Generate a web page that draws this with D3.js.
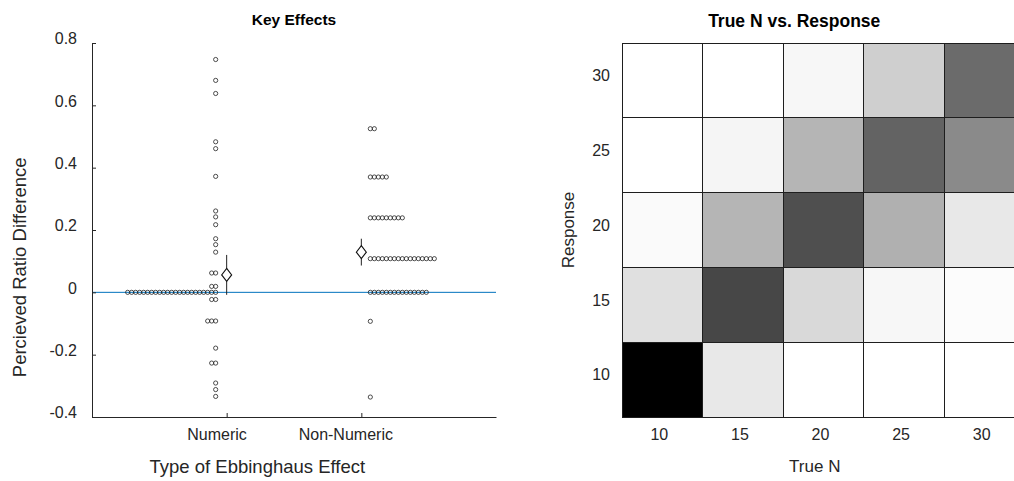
<!DOCTYPE html>
<html>
<head>
<meta charset="utf-8">
<script src="https://cdn.jsdelivr.net/npm/d3@7"></script>
<style>
  body { margin: 0; background: #fff; }
  svg { display: block; font-family: "Liberation Sans", Arial, sans-serif; }
  text { fill: #262626; }
</style>
</head>
<body>
<svg width="1014" height="481"></svg>
<script>
// left panel data
const groups = ["Numeric", "Non-Numeric"];
const numericVals = [0.747, 0.680, 0.638, 0.483, 0.461, 0.372, 0.261, 0.242, 0.217,
  0.172, 0.153, 0.129, 0.062, 0.062, 0.019, 0.019,
  0, 0, 0, 0, 0, 0, 0, 0, 0, 0, 0, 0, 0, 0, 0, 0, 0, 0, 0, 0, 0, 0, 0,
  -0.023, -0.023, -0.092, -0.092, -0.092, -0.179, -0.227, -0.227,
  -0.291, -0.312, -0.334];
const nonNumericVals = [0.525, 0.525,
  0.370, 0.370, 0.370, 0.370, 0.370,
  0.239, 0.239, 0.239, 0.239, 0.239, 0.239, 0.239, 0.239, 0.239,
  0.108, 0.108, 0.108, 0.108, 0.108, 0.108, 0.108, 0.108, 0.108, 0.108, 0.108, 0.108, 0.108, 0.108, 0.108, 0.108, 0.108,
  0, 0, 0, 0, 0, 0, 0, 0, 0, 0, 0, 0, 0, 0, 0,
  -0.093, -0.336];
const groupMeans = [0.056, 0.129];
const groupErrs = [0.064, 0.043];
const yTicks = [-0.4, -0.2, 0, 0.2, 0.4, 0.6, 0.8];
const yTickLabels = ["-0.4", "-0.2", "0", "0.2", "0.4", "0.6", "0.8"];

// right panel data
const trueN = [10, 15, 20, 25, 30];
const responses = [10, 15, 20, 25, 30];
// proportion of responses, rows = response 30..10, cols = true N 10..30
const props = [
  [0.00, 0.00, 0.03, 0.19, 0.58],   // 30
  [0.00, 0.04, 0.29, 0.61, 0.46],   // 25
  [0.02, 0.29, 0.69, 0.31, 0.09],   // 20
  [0.12, 0.72, 0.15, 0.03, 0.01],   // 15
  [1.00, 0.09, 0.00, 0.00, 0.00]    // 10
];

const svg = d3.select("svg");
const ink = "#262626";

// labels in the reference sit a bit off their anchors
function shiftX(sel, f) {
  sel.each(function () {
    const w = this.getComputedTextLength();
    d3.select(this).attr("x", +(d3.select(this).attr("x") || 0) - f * w);
  });
}

// ---------- left: Key Effects ----------
const x = d3.scaleLinear().domain([0, 3]).range([92, 496]);
const y = d3.scaleLinear().domain([-0.4, 0.8]).range([417, 43]);

const gl = svg.append("g");

gl.append("line")
  .attr("x1", x(0)).attr("x2", x(3))
  .attr("y1", y(0)).attr("y2", y(0))
  .attr("stroke", "#0072BD").attr("stroke-width", 1);

function stack(vals) {
  const cnt = new Map();
  return vals.map(v => {
    const k = cnt.get(v) || 0;
    cnt.set(v, k + 1);
    return { v: v, k: k };
  });
}
const step = 4;

gl.append("g").selectAll("circle")
  .data(stack(numericVals))
  .enter().append("circle")
  .attr("cx", d => x(1) - 11 - d.k * step)
  .attr("cy", d => y(d.v))
  .attr("r", 2.1)
  .attr("fill", "none").attr("stroke", "#222").attr("stroke-width", 0.8);

gl.append("g").selectAll("circle")
  .data(stack(nonNumericVals))
  .enter().append("circle")
  .attr("cx", d => x(2) + 9 + d.k * step)
  .attr("cy", d => y(d.v))
  .attr("r", 2.1)
  .attr("fill", "none").attr("stroke", "#222").attr("stroke-width", 0.8);

// mean + error bars
const means = groups.map((g, i) => ({ i: i + 1, m: groupMeans[i], e: groupErrs[i] }));
gl.append("g").selectAll("line")
  .data(means)
  .enter().append("line")
  .attr("x1", d => x(d.i)).attr("x2", d => x(d.i))
  .attr("y1", d => y(d.m - d.e)).attr("y2", d => y(d.m + d.e))
  .attr("stroke", "#222").attr("stroke-width", 1);
gl.append("g").selectAll("path")
  .data(means)
  .enter().append("path")
  .attr("d", d => {
    const cx = x(d.i), cy = y(d.m);
    return `M${cx},${cy - 6.5}L${cx + 5},${cy}L${cx},${cy + 6.5}L${cx - 5},${cy}Z`;
  })
  .attr("fill", "#fff").attr("stroke", "#111").attr("stroke-width", 1.1);

// axes
const yAxis = gl.append("g")
  .attr("transform", `translate(${x(0)},0)`)
  .call(d3.axisLeft(y).tickValues(yTicks).tickSizeInner(-4).tickSizeOuter(0).tickPadding(15)
    .tickFormat((d, i) => yTickLabels[i]));
yAxis.selectAll("text").attr("font-size", 16).attr("dy", "0.05em").style("fill", ink);

const xAxis = gl.append("g")
  .attr("transform", `translate(0,${y(-0.4)})`)
  .call(d3.axisBottom(x).tickValues([1, 2]).tickSizeInner(-4).tickSizeOuter(0).tickPadding(11.6)
    .tickFormat(i => groups[i - 1]));
xAxis.selectAll("text").attr("font-size", 16).style("fill", ink).call(shiftX, 0.17);

[yAxis, xAxis].forEach(a => {
  a.select(".domain").attr("stroke", ink);
  a.selectAll(".tick line").attr("stroke", ink);
  a.attr("font-family", null);
});

gl.append("text")
  .attr("x", (x(0) + x(3)) / 2).attr("y", 25)
  .attr("text-anchor", "middle").attr("font-size", 15.5).attr("font-weight", "bold")
  .style("fill", "#000")
  .text("Key Effects");

gl.append("text")
  .attr("x", (x(0) + x(3)) / 2).attr("y", 473)
  .attr("text-anchor", "middle").attr("font-size", 18.5)
  .text("Type of Ebbinghaus Effect").call(shiftX, 0.17);

gl.append("text")
  .attr("transform", `translate(26,${(y(-0.4) + y(0.8)) / 2}) rotate(-90)`)
  .attr("x", 0)
  .attr("text-anchor", "middle").attr("font-size", 18.5)
  .text("Percieved Ratio Difference").call(shiftX, 0.17);

// ---------- right: heatmap ----------
const xh = d3.scaleBand().domain(trueN).range([622, 1025]);
const yh = d3.scaleBand().domain(responses.slice().reverse()).range([43, 417]);
const shade = d3.scaleLinear().domain([0, 1]).range(["#ffffff", "#000000"]);

const gr = svg.append("g");
const cells = [];
responses.slice().reverse().forEach((r, ri) => {
  trueN.forEach((n, ci) => cells.push({ r: r, n: n, v: props[ri][ci] }));
});

gr.append("g").selectAll("rect")
  .data(cells)
  .enter().append("rect")
  .attr("x", d => xh(d.n)).attr("y", d => yh(d.r))
  .attr("width", xh.bandwidth()).attr("height", yh.bandwidth())
  .attr("fill", d => shade(d.v))
  .attr("stroke", "#1e1e1e").attr("stroke-width", 1)
  .attr("shape-rendering", "crispEdges");

const xhAxis = gr.append("g")
  .attr("transform", "translate(0,417)")
  .call(d3.axisBottom(xh).tickSize(0).tickPadding(11.6));
xhAxis.select(".domain").remove();
xhAxis.selectAll("text").attr("font-size", 16).style("fill", ink).call(shiftX, 0.17);
xhAxis.attr("font-family", null);

const yhAxis = gr.append("g")
  .attr("transform", "translate(622,0)")
  .call(d3.axisLeft(yh).tickSize(0).tickPadding(12));
yhAxis.select(".domain").remove();
yhAxis.selectAll("text").attr("font-size", 16).attr("dy", "0.05em").style("fill", ink);
yhAxis.attr("font-family", null);

gr.append("text")
  .attr("x", (622 + 1025) / 2).attr("y", 27)
  .attr("text-anchor", "middle").attr("font-size", 17.5).attr("font-weight", "bold")
  .style("fill", "#000")
  .text("True N vs. Response").call(shiftX, 0.17);

gr.append("text")
  .attr("x", (622 + 1025) / 2).attr("y", 472)
  .attr("text-anchor", "middle").attr("font-size", 17)
  .text("True N").call(shiftX, 0.17);

gr.append("text")
  .attr("transform", `translate(574,230) rotate(-90)`)
  .attr("x", 0)
  .attr("text-anchor", "middle").attr("font-size", 17)
  .text("Response");
</script>
</body>
</html>
